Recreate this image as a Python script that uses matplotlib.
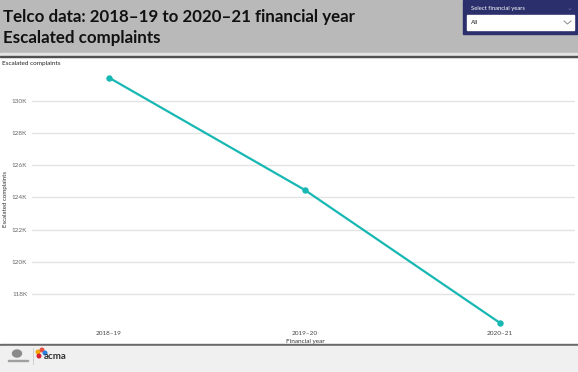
import matplotlib.pyplot as plt
from matplotlib.patches import Rectangle, Circle, Ellipse

# data
years = ["2018–19", "2019–20", "2020–21"]
complaints = [131460, 124480, 116190]
ytick_values = [118000, 120000, 122000, 124000, 126000, 128000, 130000]
ytick_labels = ["118K", "120K", "122K", "124K", "126K", "128K", "130K"]

W, H = 578, 372
teal = "#17b8b3"
navy = "#2b2f6c"
font = "Lato"

fig = plt.figure(figsize=(W / 100, H / 100), dpi=100)

# background layer drawn in pixel coordinates
bg = fig.add_axes([0, 0, 1, 1], zorder=0)
bg.set_xlim(0, W)
bg.set_ylim(H, 0)
bg.axis("off")

bg.add_patch(Rectangle((0, 0), W, 53, color="#b9b9b9"))
bg.add_patch(Rectangle((0, 53), W, 3.5, color="#e4e4e4"))
bg.add_patch(Rectangle((0, 56), W, 1.2, color="#505050"))
bg.add_patch(Rectangle((0, 343.5), W, 2, color="#6a6a6a"))
bg.add_patch(Rectangle((0, 345.5), W, H - 345.5, color="#f0f0f0"))

# header titles
bg.text(3, 22, "Telco data: 2018–19 to 2020–21 financial year", fontsize=12.2,
        fontweight="bold", family=font, color="#111111", va="baseline")
bg.text(3, 43, "Escalated complaints", fontsize=12.2, fontweight="bold",
        family=font, color="#111111", va="baseline")

# slicer box
bg.add_patch(Rectangle((463, 0), 114, 34, color=navy))
bg.add_patch(Rectangle((467, 15), 107, 15, color="white"))
bg.text(471, 8.5, "Select financial years", fontsize=4.2, family=font,
        color="white", va="center")
bg.text(570, 8.5, "⌄", fontsize=5, color="#6a6e9a", va="center", ha="center")
bg.text(471, 22.5, "All", fontsize=4.5, family=font, color="#222222",
        va="center")
bg.plot([564, 567.5, 571], [21, 24, 21], color="#8a8a8a", lw=0.7)

# chart title and axis labels
bg.text(2, 63, "Escalated complaints", fontsize=4.6, family=font,
        color="#222222", va="center")
bg.text(5.5, 199, "Escalated complaints", fontsize=4.4, family=font,
        color="#333333", rotation=90, va="center", ha="center")
bg.text(305, 341, "Financial year", fontsize=4.6, family=font,
        color="#333333", va="center", ha="center")

# footer logos
bg.add_patch(Ellipse((17, 353.5), 9, 7, color="#8a8a8a"))
bg.add_patch(Rectangle((8, 359.5), 20, 1, color="#a0a0a0"))
bg.plot([33, 33], [348, 364], color="#c8c8c8", lw=0.6)
for cx, cy, col in [(38, 352, "#f2a900"), (42, 350, "#e9503e"),
                    (45, 353, "#2a7de1"), (39, 356, "#d6202e")]:
    bg.add_patch(Circle((cx, cy), 1.8, color=col))
bg.text(44, 359, "acma", fontsize=7, fontweight="bold", family=font,
        color="#333333", va="baseline")

# main plot
left, right, top, bottom = 32, 575, 70, 326
ax = fig.add_axes([left / W, 1 - bottom / H, (right - left) / W,
                   (bottom - top) / H], zorder=1)
ax.patch.set_alpha(0)

x = list(range(len(years)))
ax.plot(x, complaints, color=teal, lw=1.6, marker="o", markersize=3.6,
        clip_on=False, zorder=3)

spacing = 195.5
ax.set_xlim(-(109 - left) / spacing, 2 + (right - 500) / spacing)
ax.set_ylim(118000 - (bottom - 294) / 16 * 1000,
            130000 + (101 - top) / 16 * 1000)

ax.set_xticks(x)
ax.set_xticklabels(years, fontsize=4.6, family=font, color="#444444")
ax.set_yticks(ytick_values)
ax.set_yticklabels(ytick_labels, fontsize=4.6, family=font, color="#666666")
ax.tick_params(length=0)
ax.tick_params(axis="x", pad=3.5)
ax.tick_params(axis="y", pad=3.5)
ax.yaxis.grid(True, color="#e3e3e3", lw=1.0)
ax.set_axisbelow(True)
for s in ax.spines.values():
    s.set_visible(False)

fig.savefig("out.png", dpi=100)
